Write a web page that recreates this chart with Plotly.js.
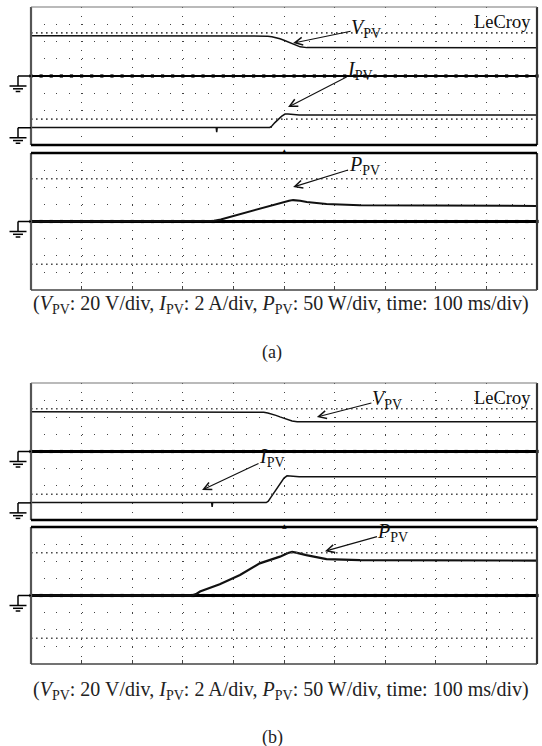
<!DOCTYPE html>
<html>
<head>
<meta charset="utf-8">
<script src="https://cdn.plot.ly/plotly-3.0.1.min.js"></script>
<style>html,body{margin:0;padding:0;background:#fff;}#chart{width:542px;height:746px;}</style>
</head>
<body>
<div id="chart"></div>
<script>
// ---------------- data (time in ms, V in volts, I in amps, P in watts) ----------------
const timeVa = [0, 440, 458, 468, 476, 484, 492, 500, 508, 516, 524, 532, 545, 1000];
const voltVa = [23.4, 23.4, 23.3, 23.1, 22.8, 22.3, 21.6, 20.7, 19.7, 18.6, 17.6, 16.9, 16.45, 16.4];
const timeIa = [0, 366, 367, 368, 472, 476, 482, 488, 495, 502, 508, 530, 1000];
const currIa = [0.02, 0.02, -0.25, 0.02, 0.02, 0.1, 0.3, 0.49, 0.66, 0.79, 0.79, 0.74, 0.74];
const timePa = [0, 350, 362, 375, 400, 440, 470, 492, 510, 518, 524, 532, 545, 584, 650, 1000];
const powPa  = [0, 0, 1, 3, 8, 16, 22, 27.5, 30.3, 31.2, 31.2, 30.2, 28.5, 25.7, 23.6, 22.8];

const timeVb = [0, 440, 452, 460, 468, 476, 484, 492, 500, 508, 516, 526, 1000];
const voltVb = [23.2, 23.2, 23.1, 22.9, 22.5, 21.9, 21.1, 20.2, 19.3, 18.5, 17.8, 17.4, 17.4];
const timeIb = [0, 357, 358, 359, 465, 469, 474, 482, 492, 500, 506, 512, 530, 1000];
const currIb = [0.02, 0.02, -0.23, 0.02, 0.02, 0.1, 0.32, 0.68, 1.09, 1.45, 1.58, 1.56, 1.52, 1.52];
const timePb = [0, 318, 326, 334, 373, 413, 452, 492, 508, 516, 524, 544, 584, 650, 1000];
const powPb  = [0, 0, 2, 5.8, 16.4, 29.9, 46.9, 56.7, 62, 63.6, 62.5, 59, 53.2, 51.5, 51];

// scope settings
const voltPerDiv = 20, ampPerDiv = 2, wattPerDiv = 50, msPerDiv = 100;
const hDivs = 10, vDivs = 4;
const iZeroDiv = 0.5;            // current ground, divisions above section bottom
const cursorDivs = [-1.25, 1.25]; // dense dotted cursor rows
const triggerTime = 500;
const minorPerDiv = 5;

// ---------------- layout geometry ----------------
const W = 542, H = 746;
const xL = 31, xR = 537;
const secs = [[7,145],[153,290],[383,520],[527,664]];
const dom = s => [1 - s[1]/H, 1 - s[0]/H];
const xd = [xL/W, xR/W];
const serif = 'Liberation Serif, Times New Roman, serif';

const vRange = [-vDivs/2*voltPerDiv, vDivs/2*voltPerDiv];
const iRange = [-iZeroDiv*ampPerDiv, (vDivs - iZeroDiv)*ampPerDiv];
const pRange = [-vDivs/2*wattPerDiv, vDivs/2*wattPerDiv];

const gridCol = '#444';
function xAx(anchor, bottomTicks) {
  return {domain: xd, range: [0, hDivs*msPerDiv], anchor: anchor, dtick: msPerDiv,
    showgrid: true, gridcolor: gridCol, gridwidth: 1, griddash: '1px,7.6px',
    zeroline: false, showticklabels: false, showline: false,
    ticks: bottomTicks ? 'inside' : '', ticklen: 4, tickcolor: '#444', tickwidth: 1, fixedrange: true};
}
function yAx(domain, range, dtick, anchor) {
  return {domain: domain, range: range, anchor: anchor, dtick: dtick,
    showgrid: true, gridcolor: gridCol, gridwidth: 1, griddash: '1px,11.65px',
    zeroline: true, zerolinecolor: '#000', zerolinewidth: 2.2,
    showticklabels: false, ticks: '', showline: false, fixedrange: true};
}
function iAx(over, anchor) {
  return {overlaying: over, range: iRange, anchor: anchor, visible: false, fixedrange: true};
}

const layout = {
  width: W, height: H, autosize: false,
  margin: {l: 0, r: 0, t: 0, b: 0, pad: 0},
  paper_bgcolor: '#fff', plot_bgcolor: '#fff', showlegend: false,
  xaxis:  xAx('y', false),
  yaxis:  yAx(dom(secs[0]), vRange, voltPerDiv/2, 'x'),
  yaxis2: iAx('y', 'x'),
  xaxis2: xAx('y3', true),
  yaxis3: yAx(dom(secs[1]), pRange, wattPerDiv/2, 'x2'),
  xaxis3: xAx('y4', false),
  yaxis4: yAx(dom(secs[2]), vRange, voltPerDiv/2, 'x3'),
  yaxis5: iAx('y4', 'x3'),
  xaxis4: xAx('y6', true),
  yaxis6: yAx(dom(secs[3]), pRange, wattPerDiv/2, 'x4'),
  shapes: [], annotations: []
};

// ---------------- traces ----------------
const line = (w) => ({color: '#111', width: w});
const traces = [
  {x: timeVa, y: voltVa, xaxis: 'x', yaxis: 'y', mode: 'lines', line: line(1.5)},
  {x: timeIa, y: currIa, xaxis: 'x', yaxis: 'y2', mode: 'lines', line: line(1.5)},
  {x: timePa, y: powPa, xaxis: 'x2', yaxis: 'y3', mode: 'lines', line: line(2)},
  {x: timeVb, y: voltVb, xaxis: 'x3', yaxis: 'y4', mode: 'lines', line: line(1.5)},
  {x: timeIb, y: currIb, xaxis: 'x3', yaxis: 'y5', mode: 'lines', line: line(1.5)},
  {x: timePb, y: powPb, xaxis: 'x4', yaxis: 'y6', mode: 'lines', line: line(2.2)}
];
// centre graticule ticks
const minorX = [];
for (let k = 0; k <= hDivs*minorPerDiv; k++) minorX.push(k*msPerDiv/minorPerDiv);
[['x','y'],['x2','y3'],['x3','y4'],['x4','y6']].forEach(([xa, ya]) => {
  traces.unshift({x: minorX, y: minorX.map(() => 0), xaxis: xa, yaxis: ya, mode: 'markers',
    marker: {symbol: 'square', size: 3.2, color: '#000'}, hoverinfo: 'skip', cliponaxis: false});
});

// ---------------- frame, cursors, grounds ----------------
const axNames = [['x','y'],['x2','y3'],['x3','y4'],['x4','y6']];
function seg(xa, ya, x0, y0, x1, y1, col, w, dash) {
  layout.shapes.push({type: 'line', xref: xa + ' domain', yref: ya + ' domain',
    x0: x0, y0: y0, x1: x1, y1: y1, line: {color: col, width: w, dash: dash || 'solid'}});
}
axNames.forEach(([xa, ya], i) => {
  const upper = (i % 2 === 0);
  cursorDivs.forEach(d => seg(xa, ya, 0, 0.5 + d/vDivs, 1, 0.5 + d/vDivs, '#4a4a4a', 1.6, '1.6px,3.4px'));
  seg(xa, ya, 0, 0, 0, 1, '#555', 2.2);
  seg(xa, ya, 1, 0, 1, 1, '#333', 2.2);
  if (upper) {
    seg(xa, ya, 0, 1, 1, 1, '#777', 1.2);
    seg(xa, ya, 0, 0, 1, 0, '#000', 2.4);
  } else {
    seg(xa, ya, 0, 1, 1, 1, '#000', 2.4);
    seg(xa, ya, 0, 0, 1, 0, '#444', 1.6);
  }
});
function ground(xa, ya, frac) {
  const base = {type: 'line', xref: xa + ' domain', yref: ya + ' domain', xsizemode: 'pixel', ysizemode: 'pixel',
    xanchor: 0, yanchor: frac, line: {color: '#000', width: 1.5}};
  const parts = [[0, 0, -13, 0], [-13, 0, -13, -10], [-21.5, -10, -4.5, -10], [-18, -12.8, -8, -12.8], [-15.3, -15.5, -10.7, -15.5]];
  parts.forEach(p => layout.shapes.push(Object.assign({}, base, {x0: p[0], y0: p[1], x1: p[2], y1: p[3]})));
}
const iFrac = (0 - iRange[0])/(iRange[1] - iRange[0]);
ground('x', 'y', 0.5); ground('x', 'y', iFrac); ground('x2', 'y3', 0.5);
ground('x3', 'y4', 0.5); ground('x3', 'y4', iFrac); ground('x4', 'y6', 0.5);

// ---------------- annotations ----------------
const lblFont = {family: serif, size: 20, color: '#111'};
function label(text, xa, ya, x, y, ax, ay) {
  layout.annotations.push({text: text, xref: xa, yref: ya, x: x, y: y, ax: ax, ay: ay,
    showarrow: true, arrowhead: 5, arrowsize: 1.4, arrowwidth: 1.1, arrowcolor: '#111',
    font: lblFont, borderpad: 0, standoff: 0});
}
const V = '<i>V</i><sub>PV</sub>', I = '<i>I</i><sub>PV</sub>', P = '<i>P</i><sub>PV</sub>';
label(V, 'x', 'y', 518, 19.1, 73, -15);
label(I, 'x', 'y', 508, -18, 72, -37);
label(P, 'x2', 'y3', 518, 50.3, 71, -22);
label(V, 'x3', 'y4', 565, 20.1, 70, -18);
label(I, 'x3', 'y4', 338, -22.5, 70, -33);
label(P, 'x4', 'y6', 581, 64.7, 68, -19);

[['x','y'],['x3','y4']].forEach(([xa, ya]) => {
  layout.annotations.push({text: 'LeCroy', xref: xa + ' domain', yref: ya + ' domain', x: 1, y: 1,
    xanchor: 'right', yanchor: 'top', xshift: -4, yshift: -3, showarrow: false,
    font: {family: serif, size: 18.5, color: '#111'}});
  layout.annotations.push({text: '\u25B2', xref: xa, yref: ya + ' domain', x: triggerTime, y: 0,
    xanchor: 'center', yanchor: 'top', yshift: -0.5, showarrow: false, borderpad: 0,
    font: {family: 'DejaVu Sans', size: 6, color: '#000'}});
});

const caption = '(' + V + ': 20 V/div, ' + I + ': 2 A/div, ' + P + ': 50 W/div, time: 100 ms/div)';
[[304, 352, '(a)'], [690, 737, '(b)']].forEach(([cy, ty, tag]) => {
  layout.annotations.push({text: caption, xref: 'paper', yref: 'paper', x: 281/W, y: 1 - cy/H,
    xanchor: 'center', yanchor: 'middle', showarrow: false, font: {family: serif, size: 20, color: '#222'}});
  layout.annotations.push({text: tag, xref: 'paper', yref: 'paper', x: 272/W, y: 1 - ty/H,
    xanchor: 'center', yanchor: 'middle', showarrow: false, font: {family: serif, size: 18, color: '#222'}});
});

Plotly.newPlot('chart', traces, layout, {staticPlot: true, displayModeBar: false});
</script>
</body>
</html>
